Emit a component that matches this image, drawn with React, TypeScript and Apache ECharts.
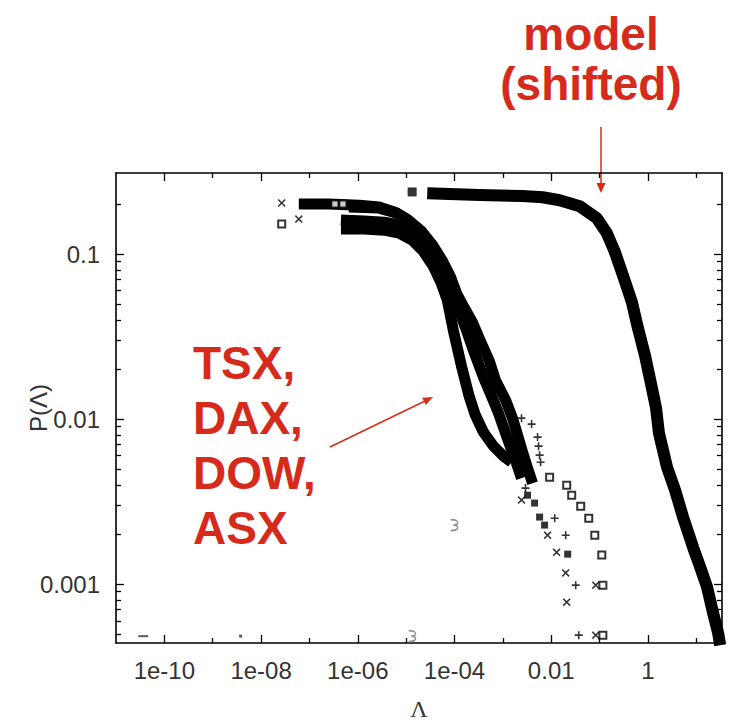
import React, { useEffect, useRef } from 'react';
import * as echarts from 'echarts';

// ---- axis ranges and ticks (data units) ----
const xRange = [1e-11, 34];
const yRange = [4.4e-4, 0.31];
const xTickValues = [1e-10, 1e-8, 1e-6, 1e-4, 0.01, 1];
const xTickLabels = ['1e-10', '1e-08', '1e-06', '1e-04', '0.01', '1'];
const xMinorTickValues = [1e-9, 1e-7, 1e-5, 1e-3, 0.1, 10];
const yTickValues = [0.1, 0.01, 0.001];
const yTickLabels = ['0.1', '0.01', '0.001'];
const yMinorTickValues = [
  5e-4, 6e-4, 7e-4, 8e-4, 9e-4,
  2e-3, 3e-3, 4e-3, 5e-3, 6e-3, 7e-3, 8e-3, 9e-3,
  0.02, 0.03, 0.04, 0.05, 0.06, 0.07, 0.08, 0.09,
  0.2,
];

// ---- model (shifted) ----
const modelLeadLambda = [1.33e-5];
const modelLeadP = [0.238];
const modelLambda = [2.73e-5, 3.27e-4, 2.55e-3, 6.64e-3, 0.0149, 0.0388, 0.0875, 0.141, 0.207, 0.303, 0.466, 0.621, 0.867, 1.21, 1.47, 1.69, 2.48, 3.63, 5.32, 8.59, 12.0, 16.7, 22.3, 28.3, 31.2];
const modelP = [0.234, 0.228, 0.225, 0.221, 0.212, 0.195, 0.165, 0.134, 0.103, 0.0746, 0.0512, 0.0356, 0.0244, 0.0154, 0.0117, 0.00822, 0.00512, 0.00372, 0.00255, 0.00167, 0.00127, 0.00096, 0.000667, 0.000505, 0.000427];

// ---- empirical data: dense bodies ----
const tsxLambda = [6.03e-8, 2.52e-7, 1.06e-6, 2.75e-6, 5.64e-6, 1.0e-5, 1.69e-5, 2.73e-5, 4.19e-5, 6.14e-5, 8.59e-5, 1.2e-4, 1.76e-4, 2.58e-4, 3.96e-4, 5.81e-4, 8.11e-4, 1.08e-3, 1.44e-3, 1.91e-3, 2.43e-3];
const tsxP = [0.201, 0.201, 0.198, 0.193, 0.18, 0.163, 0.142, 0.118, 0.0959, 0.0756, 0.0597, 0.0471, 0.0346, 0.0251, 0.018, 0.0138, 0.0109, 0.00857, 0.00676, 0.00541, 0.00439];
const daxLambda = [6.56e-7, 2.75e-6, 6.5e-6, 1.1e-5, 2.05e-5, 3.5e-5, 5.5e-5, 8.3e-5, 1.12e-4, 1.6e-4, 2.34e-4, 3.43e-4, 5.27e-4, 7.03e-4, 1.14e-3, 1.58e-3, 2.01e-3, 2.55e-3, 3.24e-3, 4.11e-3];
const daxP = [0.193, 0.19, 0.177, 0.161, 0.138, 0.1135, 0.092, 0.0726, 0.0572, 0.0471, 0.0387, 0.0297, 0.0224, 0.0172, 0.013, 0.01014, 0.008, 0.00631, 0.00505, 0.00409];
const dowLambda = [4.48e-7, 1.35e-6, 3.5e-6, 7.16e-6, 1.33e-5, 2.25e-5, 3.63e-5, 5.32e-5, 7.1e-5, 9.44e-5, 1.38e-4, 2.03e-4, 2.7e-4, 3.96e-4, 6.38e-4, 1.03e-3, 1.51e-3];
const dowP = [0.142, 0.142, 0.1396, 0.134, 0.1216, 0.1042, 0.0846, 0.0667, 0.0526, 0.0346, 0.0212, 0.0136, 0.01057, 0.00834, 0.00686, 0.00597, 0.00548];
const asxLambda = [4.48e-7, 1.35e-6, 3.5e-6, 7.16e-6, 1.27e-5, 2.25e-5, 3.81e-5, 5.86e-5, 8.59e-5];
const asxP = [0.161, 0.1585, 0.156, 0.15, 0.138, 0.12, 0.1, 0.0811, 0.064];

// ---- empirical data: sparse tail points ----
const tsxTailLambda = [2.43e-3, 3.93e-3, 5.22e-3, 5.48e-3, 5.75e-3, 6.03e-3, 2.01e-3, 2.94e-3, 1.18e-2, 1.99e-2, 3.21e-2, 3.71e-2];
const tsxTailP = [0.01014, 0.00933, 0.00778, 0.00686, 0.00605, 0.00548, 0.00491, 0.00382, 0.00251, 0.00198, 0.000986, 0.000491];
const daxTailLambda = [2.67e-8, 6.03e-8, 2.43e-3, 8.41e-3, 1.29e-2, 1.99e-2, 2.09e-2, 8.34e-2, 8.34e-2];
const daxTailP = [0.204, 0.163, 0.00323, 0.00198, 0.00156, 0.00117, 0.000778, 0.000986, 0.000491];
const asxTailLambda = [2.67e-8, 3.37e-7, 4.93e-7, 9.27e-3, 2.09e-2, 2.65e-2, 4.07e-2, 5.97e-2, 7.96e-2, 0.111, 0.117, 0.117];
const asxTailP = [0.152, 0.201, 0.201, 0.00445, 0.00398, 0.00346, 0.00297, 0.00251, 0.00198, 0.0015, 0.000986, 0.000491];
const dowTailLambda = [3.24e-3, 4.53e-3, 5.75e-3, 7.29e-3, 2.19e-2];
const dowTailP = [0.00346, 0.0031, 0.00255, 0.00228, 0.00152];
const singleDashLambda = [3.66e-11];
const singleDashP = [0.000484];
const singleDotLambda = [3.78e-9];
const singleDotP = [0.000484];
const oddLambda = [1.33e-5, 9.9e-5];
const oddP = [0.000484, 0.00228];

const RED = '#d62b1c';
const LABEL_COLOR = '#333';

const lg = (a: number[]) => a.map((v) => Math.log10(v));
const pairs = (l: number[], p: number[]) => l.map((v, i) => [Math.log10(v), Math.log10(p[i])]);
const findLabel = (vals: number[], labels: string[]) => (v: number) => {
  const i = vals.findIndex((t) => Math.abs(Math.log10(t) - v) < 1e-6);
  return i >= 0 ? labels[i] : '';
};

const PLUS = 'path://M0,3.2H8V4.8H0Z M3.2,0H4.8V8H3.2Z';
const CROSS = 'path://M0,1.1L1.1,0L4,2.9L6.9,0L8,1.1L5.1,4L8,6.9L6.9,8L4,5.1L1.1,8L0,6.9L2.9,4Z';
const ODD = 'path://M0,0C5,0 5,4.5 1.5,4.5C5,4.5 5,9 0,9';

export default function App() {
  const ref = useRef<HTMLDivElement>(null);

  useEffect(() => {
    if (!ref.current) return;
    const chart = echarts.init(ref.current, null, { renderer: 'svg' });

    const xMin = Math.log10(xRange[0]);
    const xMax = Math.log10(xRange[1]);
    const yMin = Math.log10(yRange[0]);
    const yMax = Math.log10(yRange[1]);

    const tickLine = { color: '#000', width: 1.3 };
    const mkAxis = (pos: string, min: number, max: number, ticks: number[], len: number, showLine: boolean, extra: any = {}) => ({
      type: 'value',
      position: pos,
      min,
      max,
      splitLine: { show: false },
      axisLine: { show: showLine, onZero: false, lineStyle: { color: '#000', width: 1.6 } },
      axisTick: { show: true, inside: true, length: len, customValues: ticks, lineStyle: tickLine },
      axisLabel: { show: false },
      minorTick: { show: false },
      ...extra,
    });

    const labelStyle = { fontSize: 24, color: LABEL_COLOR, fontFamily: 'Liberation Sans, Arial, sans-serif' };
    const band = (w: number) => ({ color: '#000', width: w, cap: 'butt', join: 'round' });

    const option: any = {
      animation: false,
      backgroundColor: '#fff',
      grid: { left: 116, top: 173, right: 7, bottom: 80, containLabel: false, outerBoundsMode: 'none' },
      xAxis: [
        mkAxis('bottom', xMin, xMax, lg(xTickValues), 8, true, {
          axisLabel: { show: true, customValues: lg(xTickValues), formatter: findLabel(xTickValues, xTickLabels), margin: 15, ...labelStyle },
          name: 'Λ',
          nameLocation: 'middle',
          nameGap: 54,
          nameMoveOverlap: false,
          nameTextStyle: { fontSize: 24, lineHeight: 24, color: LABEL_COLOR, fontFamily: 'Liberation Serif, serif' },
        }),
        mkAxis('bottom', xMin, xMax, lg(xMinorTickValues), 5, false),
        mkAxis('top', xMin, xMax, lg(xTickValues), 8, true),
        mkAxis('top', xMin, xMax, lg(xMinorTickValues), 5, false),
      ],
      yAxis: [
        mkAxis('left', yMin, yMax, lg(yTickValues), 8, true, {
          axisLabel: { show: true, customValues: lg(yTickValues), formatter: findLabel(yTickValues, yTickLabels), margin: 16, ...labelStyle },
          name: 'P(Λ)',
          nameLocation: 'middle',
          nameGap: 66,
          nameMoveOverlap: false,
          nameTextStyle: { fontSize: 24, color: LABEL_COLOR, fontFamily: 'Liberation Sans, Arial, sans-serif' },
        }),
        mkAxis('left', yMin, yMax, lg(yMinorTickValues), 5, false),
        mkAxis('right', yMin, yMax, lg(yTickValues), 8, true),
        mkAxis('right', yMin, yMax, lg(yMinorTickValues), 5, false),
      ],
      series: [
        { name: 'model (shifted)', type: 'line', data: pairs(modelLambda, modelP), symbol: 'none', lineStyle: band(12), z: 2 },
        { name: 'model (shifted)', type: 'scatter', data: pairs(modelLeadLambda, modelLeadP), symbol: 'rect', symbolSize: 9, itemStyle: { color: '#000' }, z: 2 },
        { name: 'TSX', type: 'line', data: pairs(tsxLambda, tsxP), symbol: 'none', lineStyle: band(11), z: 2 },
        { name: 'DAX', type: 'line', data: pairs(daxLambda, daxP), symbol: 'none', lineStyle: band(11), z: 2 },
        { name: 'DOW', type: 'line', data: pairs(dowLambda, dowP), symbol: 'none', lineStyle: band(11), z: 2 },
        { name: 'ASX', type: 'line', data: pairs(asxLambda, asxP), symbol: 'none', lineStyle: band(11), z: 2 },
        { name: 'TSX', type: 'scatter', data: pairs(tsxTailLambda, tsxTailP), symbol: PLUS, symbolSize: 8, itemStyle: { color: '#000' }, z: 3 },
        { name: 'DAX', type: 'scatter', data: pairs(daxTailLambda, daxTailP), symbol: CROSS, symbolSize: 8, itemStyle: { color: '#000' }, z: 3 },
        { name: 'ASX', type: 'scatter', data: pairs(asxTailLambda, asxTailP), symbol: 'emptyRect', symbolSize: 7, itemStyle: { color: '#000', borderWidth: 1.6 }, z: 3 },
        { name: 'DOW', type: 'scatter', data: pairs(dowTailLambda, dowTailP), symbol: 'rect', symbolSize: 7, itemStyle: { color: '#000' }, z: 3 },
        { name: 'single', type: 'scatter', data: pairs(singleDashLambda, singleDashP), symbol: 'rect', symbolSize: [10, 2], itemStyle: { color: '#333' }, z: 3 },
        { name: 'single', type: 'scatter', data: pairs(singleDotLambda, singleDotP), symbol: 'rect', symbolSize: 3, itemStyle: { color: '#333' }, z: 3 },
        { name: 'odd', type: 'scatter', data: pairs(oddLambda, oddP), symbol: ODD, symbolSize: [7, 11], symbolKeepAspect: false, itemStyle: { color: 'none', borderColor: '#777', borderWidth: 1.5 }, z: 3 },
      ],
      graphic: [
        { type: 'text', x: 591, y: 34, style: { text: 'model', font: 'bold 46px "Liberation Sans", Arial, sans-serif', fill: RED, align: 'center', verticalAlign: 'middle' } },
        { type: 'text', x: 591, y: 84, style: { text: '(shifted)', font: 'bold 46px "Liberation Sans", Arial, sans-serif', fill: RED, align: 'center', verticalAlign: 'middle' } },
        { type: 'text', x: 193, y: 363, style: { text: 'TSX,', font: 'bold 46px "Liberation Sans", Arial, sans-serif', fill: RED, align: 'left', verticalAlign: 'middle' } },
        { type: 'text', x: 193, y: 418, style: { text: 'DAX,', font: 'bold 46px "Liberation Sans", Arial, sans-serif', fill: RED, align: 'left', verticalAlign: 'middle' } },
        { type: 'text', x: 193, y: 473, style: { text: 'DOW,', font: 'bold 46px "Liberation Sans", Arial, sans-serif', fill: RED, align: 'left', verticalAlign: 'middle' } },
        { type: 'text', x: 193, y: 528, style: { text: 'ASX', font: 'bold 46px "Liberation Sans", Arial, sans-serif', fill: RED, align: 'left', verticalAlign: 'middle' } },
        { type: 'line', shape: { x1: 601, y1: 127, x2: 601, y2: 184 }, style: { stroke: RED, lineWidth: 1.5 } },
        { type: 'polygon', shape: { points: [[596.5, 183], [605.5, 183], [601, 193]] }, style: { fill: RED } },
        { type: 'line', shape: { x1: 330, y1: 447, x2: 425, y2: 401 }, style: { stroke: RED, lineWidth: 1.5 } },
        { type: 'polygon', shape: { points: [[433, 397], [425.8, 405], [422.2, 397.8]] }, style: { fill: RED } },
      ],
    };

    chart.setOption(option);
    return () => chart.dispose();
  }, []);

  return <div ref={ref} style={{ position: 'fixed', left: 0, top: 0, width: 729, height: 723, background: '#fff' }} />;
}
